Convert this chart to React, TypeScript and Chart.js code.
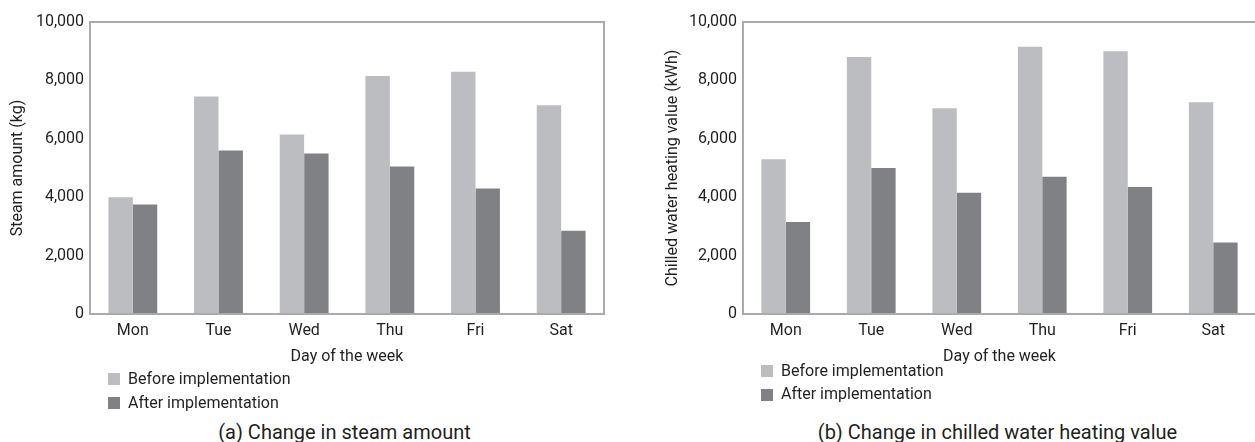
import React, { useEffect, useRef } from "react";
import { Chart, registerables } from "chart.js";

Chart.register(...registerables);

// ---- data ----
const days = ["Mon", "Tue", "Wed", "Thu", "Fri", "Sat"];
const seriesNames = ["Before implementation", "After implementation"];
const steamBefore = [4000, 7450, 6150, 8150, 8300, 7150];
const steamAfter = [3750, 5600, 5500, 5050, 4300, 2850];
const chilledBefore = [5300, 8800, 7050, 9150, 9000, 7250];
const chilledAfter = [3150, 5000, 4150, 4700, 4350, 2450];
const yMin = 0;
const yMax = 10000;
const yStep = 2000;
const xTitle = "Day of the week";
const yTitleSteam = "Steam amount (kg)";
const yTitleChilled = "Chilled water heating value (kWh)";
const captionSteam = "(a) Change in steam amount";
const captionChilled = "(b) Change in chilled water heating value";

// ---- styles ----
const COLORS = ["#bcbdc0", "#808185"];
const FRAME = "#a9aaad";
const TEXT = "#231f20";
const FONT = "Roboto";

const framePlugin = {
  id: "frameBox",
  afterDraw(chart: any) {
    const { ctx, chartArea } = chart;
    const { left, top, right, bottom } = chartArea;
    ctx.save();
    ctx.strokeStyle = FRAME;
    ctx.lineWidth = 2;
    ctx.strokeRect(left, top, right - left, bottom - top);
    ctx.restore();
  },
};

type PanelProps = {
  left: number;
  width: number;
  height: number;
  yAxisWidth: number;
  padRight: number;
  yTitle: string;
  before: number[];
  after: number[];
};

function BarPanel(p: PanelProps) {
  const ref = useRef<HTMLCanvasElement | null>(null);
  useEffect(() => {
    if (!ref.current) return;
    const chart = new Chart(ref.current, {
      type: "bar",
      data: {
        labels: days,
        datasets: [
          { label: seriesNames[0], data: p.before, backgroundColor: COLORS[0], borderWidth: 0 },
          { label: seriesNames[1], data: p.after, backgroundColor: COLORS[1], borderWidth: 0 },
        ],
      },
      options: {
        responsive: false,
        animation: false,
        devicePixelRatio: 1,
        datasets: { bar: { categoryPercentage: 0.57, barPercentage: 1.0 } },
        layout: { padding: { top: 22, right: p.padRight, bottom: 0, left: 0 } },
        plugins: { legend: { display: false }, tooltip: { enabled: false } },
        scales: {
          x: {
            grid: { display: false, drawTicks: false },
            border: { display: false },
            ticks: { color: TEXT, font: { family: FONT, size: 16 }, padding: 7 },
            title: {
              display: true,
              text: xTitle,
              color: TEXT,
              font: { family: FONT, size: 16 },
              padding: { top: 0, bottom: 3 },
            },
            afterFit: (s: any) => {
              s.height = 56;
            },
          },
          y: {
            min: yMin,
            max: yMax,
            grid: { display: false, drawTicks: false },
            border: { display: false },
            ticks: {
              stepSize: yStep,
              color: TEXT,
              font: { family: FONT, size: 16 },
              padding: 6,
              callback: (v: any) => Number(v).toLocaleString("en-US"),
            },
            title: {
              display: true,
              text: p.yTitle,
              color: TEXT,
              font: { family: FONT, size: 16 },
              padding: { top: 8, bottom: 0 },
            },
            afterFit: (s: any) => {
              s.width = p.yAxisWidth;
            },
          },
        },
      } as any,
      plugins: [framePlugin],
    });
    return () => chart.destroy();
  }, []);
  return (
    <canvas
      ref={ref}
      width={p.width}
      height={p.height}
      style={{ position: "absolute", left: p.left, top: 0, width: p.width, height: p.height }}
    />
  );
}

function Legend({ x, y, gap }: { x: number; y: number; gap: number }) {
  return (
    <>
      {seriesNames.map((name, i) => (
        <React.Fragment key={name}>
          <div
            style={{
              position: "absolute",
              left: x,
              top: y + i * gap,
              width: 12,
              height: 12,
              background: COLORS[i],
            }}
          />
          <div
            style={{
              position: "absolute",
              left: x + 20,
              top: y + i * gap - 2.5,
              fontSize: 16,
              lineHeight: "16px",
              color: TEXT,
              whiteSpace: "nowrap",
            }}
          >
            {name}
          </div>
        </React.Fragment>
      ))}
    </>
  );
}

function Caption({ cx, text }: { cx: number; text: string }) {
  return (
    <div
      style={{
        position: "absolute",
        left: cx - 300,
        width: 600,
        top: 422,
        textAlign: "center",
        fontSize: 20,
        lineHeight: "20px",
        color: TEXT,
        whiteSpace: "nowrap",
      }}
    >
      {text}
    </div>
  );
}

export default function App() {
  return (
    <div
      style={{
        position: "absolute",
        left: 0,
        top: 0,
        width: 1255,
        height: 442,
        overflow: "hidden",
        background: "#ffffff",
        fontFamily: FONT,
      }}
    >
      <BarPanel
        left={0}
        width={620}
        height={370}
        yAxisWidth={90}
        padRight={16}
        yTitle={yTitleSteam}
        before={steamBefore}
        after={steamAfter}
      />
      <BarPanel
        left={655}
        width={605}
        height={370}
        yAxisWidth={88}
        padRight={4}
        yTitle={yTitleChilled}
        before={chilledBefore}
        after={chilledAfter}
      />
      <Legend x={108} y={373} gap={24} />
      <Legend x={761} y={365} gap={23.5} />
      <Caption cx={344.5} text={captionSteam} />
      <Caption cx={997.5} text={captionChilled} />
    </div>
  );
}
